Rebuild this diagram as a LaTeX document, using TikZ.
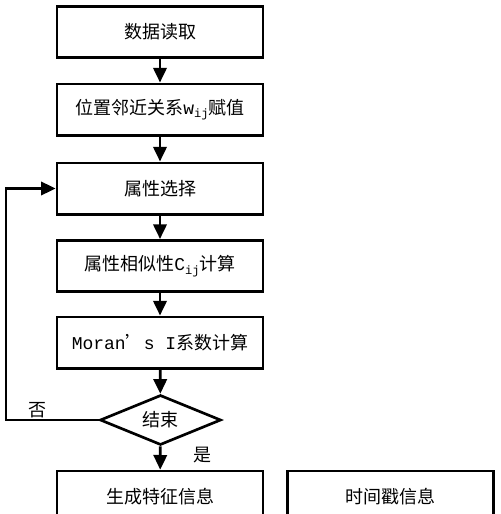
\documentclass[tikz,border=0pt]{standalone}
\usepackage{fontspec}
\setmainfont{Liberation Serif}
\newfontfamily\cjk{Noto Sans CJK SC}
\newfontfamily\mono{Liberation Mono}
\usetikzlibrary{shapes.geometric,arrows.meta}
\begin{document}
\begin{tikzpicture}[x=0.75pt,y=-0.75pt,
  box/.style={draw,line width=2pt,minimum width=154.5pt,minimum height=38.5pt,inner sep=0pt,font=\cjk\fontsize{13.5}{16}\selectfont},
  dec/.style={draw,line width=2pt,diamond,aspect=2.42,minimum width=90.75pt,minimum height=37.5pt,inner sep=0pt,font=\cjk\fontsize{13.5}{16}\selectfont},
  arr/.style={line width=2pt,-{Triangle[length=11pt,width=10pt]}},
  lab/.style={font=\cjk\fontsize{13.5}{16}\selectfont}]
\useasboundingbox (0,0) rectangle (500,514);
\clip (0,0) rectangle (500,514);
\node[box] (n1) at (160,32) {数据读取};
\node[box] (n2) at (160,109.5) {位置邻近关系{\mono w\raisebox{-0.35ex}{\fontsize{9}{10}\selectfont ij}}赋值};
\node[box] (n3) at (160,188.5) {属性选择};
\node[box] (n4) at (160,266) {属性相似性{\mono C\raisebox{-0.35ex}{\fontsize{9}{10}\selectfont ij}}计算};
\node[box] (n5) at (160,342.5) {{\mono Moran}’{\mono s I}系数计算};
\node[dec] (d) at (160.5,420) {结束};
\node[box,minimum height=39pt] (n6) at (160,497) {生成特征信息};
\node[box,minimum height=39pt] (n7) at (390.5,497) {时间戳信息};
\coordinate (c1) at (6,420);
\coordinate (c2) at (6,188.5);
\draw[arr] (n1) -- (n2);
\draw[arr] (n2) -- (n3);
\draw[arr] (n3) -- (n4);
\draw[arr] (n4) -- (n5);
\draw[arr] (n5) -- (d);
\draw[arr] (d) -- (n6);
\draw[arr] (d.west) -- (c1) -- (c2) -- (n3.west);
\node[lab] (no) at (37,410) {否};
\node[lab] (yes) at (202,455) {是};
\end{tikzpicture}
\end{document}
